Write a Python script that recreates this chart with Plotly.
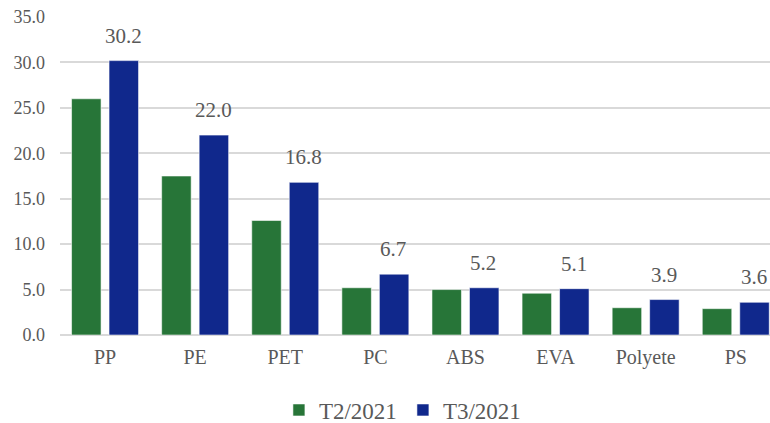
import plotly.graph_objects as go

categories = ["PP", "PE", "PET", "PC", "ABS", "EVA", "Polyete", "PS"]
t2_values = [26.0, 17.5, 12.6, 5.2, 5.0, 4.6, 3.0, 2.9]
t3_values = [30.2, 22.0, 16.8, 6.7, 5.2, 5.1, 3.9, 3.6]
y_ticks = [0, 5, 10, 15, 20, 25, 30, 35]
y_tick_labels = [f"{v:.1f}" for v in y_ticks]

GREEN = "#277538"
BLUE = "#10288C"
TEXT = "#595959"
FONT = "Liberation Serif, Times New Roman, serif"

fig = go.Figure()
fig.add_trace(go.Bar(name="T2/2021", x=categories, y=t2_values, hoverinfo="skip",
                     marker=dict(color=GREEN, line=dict(color="rgba(255,255,255,0.7)", width=0.8))))
fig.add_trace(go.Bar(name="T3/2021", x=categories, y=t3_values, hoverinfo="skip",
                     marker=dict(color=BLUE, line=dict(color="rgba(255,255,255,0.7)", width=0.8))))

for c, v in zip(categories, t3_values):
    fig.add_annotation(x=c, y=v, xref="x", yref="y", text=f"{v:.1f}",
                       showarrow=False, xshift=18, yshift=11, yanchor="bottom",
                       font=dict(family=FONT, size=21, color=TEXT))

fig.update_layout(
    width=770, height=423,
    margin=dict(l=60, r=0, t=17, b=87.5),
    paper_bgcolor="white", plot_bgcolor="white",
    barmode="group", bargap=0.168, bargroupgap=0.213,
    font=dict(family=FONT, color=TEXT),
    showlegend=True,
    legend=dict(orientation="h", x=0.483, xanchor="center",
                yref="container", y=0.0307, yanchor="middle",
                font=dict(family=FONT, size=23, color=TEXT), traceorder="normal",
                itemwidth=30, entrywidth=79),
)
fig.update_xaxes(type="category", range=[-0.5, 7.38], showgrid=False,
                 showline=False, ticks="", tickfont=dict(family=FONT, size=20, color=TEXT),
                 ticklabelstandoff=8)
fig.update_yaxes(range=[0, 35], tickvals=y_ticks, ticktext=y_tick_labels,
                 showgrid=True, gridcolor="#d9d9d9", gridwidth=1.5,
                 zeroline=True, zerolinecolor="#d9d9d9", zerolinewidth=2,
                 showline=False, ticks="", tickfont=dict(family=FONT, size=18, color=TEXT),
                 ticklabelstandoff=14, ticklabeloverflow="allow")

fig.write_html("out.html", config={"displayModeBar": False},
               post_script="document.body.style.margin='0';document.body.style.overflow='hidden';")
